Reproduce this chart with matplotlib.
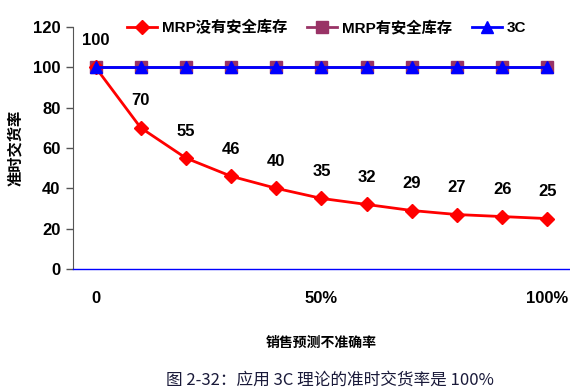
import matplotlib
matplotlib.use("Agg")
import matplotlib.pyplot as plt

# data
x_pos = list(range(11))
mrp_no_safety = [100, 70, 55, 46, 40, 35, 32, 29, 27, 26, 25]
mrp_safety = [100] * 11
three_c = [100] * 11
x_tick_pos = [0, 5, 10]
x_tick_labels = ["0", "50%", "100%"]
y_ticks = [0, 20, 40, 60, 80, 100, 120]

cjk = ["Noto Sans CJK SC", "DejaVu Sans"]
mix = ["Liberation Sans", "Noto Sans CJK SC", "DejaVu Sans"]

fig = plt.figure(figsize=(5.7, 3.91), dpi=100)
ax = fig.add_axes([0.128, 0.312, 0.872, 0.619])

ax.plot(x_pos, mrp_no_safety, color="#ff0000", lw=2, marker="D", ms=7,
        label="MRP没有安全库存", zorder=3)
ax.plot(x_pos, mrp_safety, color="#993366", lw=2, marker="s", ms=8,
        label="MRP有安全库存", zorder=2)
ax.plot(x_pos, three_c, color="#0000ff", lw=2, marker="^", ms=8,
        label="3C", zorder=4)

for xi, v in zip(x_pos, mrp_no_safety):
    ax.annotate(str(v), (xi, v), xytext=(0, 14), textcoords="offset points",
                ha="center", va="bottom", fontsize=12, fontweight="bold",
                family=mix)

ax.set_xlim(-0.5, 10.5)
ax.set_ylim(0, 120)
ax.set_yticks(y_ticks)
ax.set_xticks(x_tick_pos)
ax.set_xticklabels(x_tick_labels)
for lab in ax.get_yticklabels() + ax.get_xticklabels():
    lab.set_family(mix)
    lab.set_fontweight("bold")
    lab.set_fontsize(12)
ax.tick_params(axis="x", length=0, pad=16)
ax.tick_params(axis="y", length=5, width=1, color="#555555", pad=4)

for s in ["top", "right"]:
    ax.spines[s].set_visible(False)
ax.spines["left"].set_color("#555555")
ax.spines["bottom"].set_color("#0000ff")
ax.spines["bottom"].set_linewidth(1)

ax.set_ylabel("准时交货率", family=cjk, fontsize=11, fontweight="bold", labelpad=7)
ax.set_xlabel("销售预测不准确率", family=cjk, fontsize=10, fontweight="bold", labelpad=21)

leg = ax.legend(loc="lower center", bbox_to_anchor=(0.51, 0.94), ncol=3, frameon=False,
                prop={"family": mix, "weight": "bold", "size": 11},
                handlelength=2.0, columnspacing=1.3, handletextpad=0.3, borderaxespad=0)

fig.text(0.578, 0.027, "图 2-32：应用 3C 理论的准时交货率是 100%", family=cjk,
         fontsize=12, color="#1a1a3a", ha="center", va="center")

fig.savefig("out.png", dpi=100)
